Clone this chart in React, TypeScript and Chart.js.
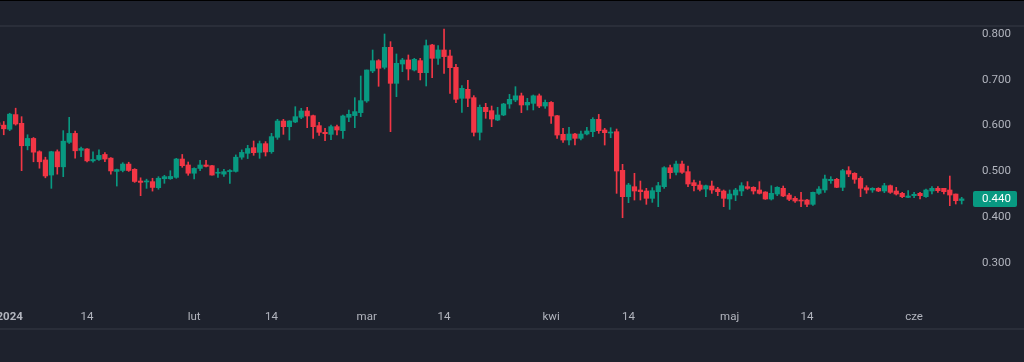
import { useEffect, useRef } from 'react';
import { Chart, registerables } from 'chart.js';

Chart.register(...registerables);

// First candle is 30 Dec 2023 (day -2 relative to 1 Jan 2024), one candle per day up to 9 Jun 2024
const FIRST_DAY = -2;

const open = [
  0.606, 0.601, // Dec
  0.592, 0.624, 0.605, 0.556, 0.572, 0.543, 0.525, 0.492, 0.543, 0.51, 0.5635, 0.583, 0.546, 0.549, 0.523, 0.526, 0.537, 0.529, 0.5, 0.502, 0.516, 0.5045, 0.479, 0.477, 0.4776, 0.4645, 0.484, 0.484, 0.487, 0.527, 0.514, // Jan
  0.496, 0.5065, 0.514, 0.5125, 0.496, 0.494, 0.4995, 0.5, 0.531, 0.5395, 0.5518, 0.5416, 0.5606, 0.5431, 0.5744, 0.61, 0.5977, 0.6079, 0.6181, 0.6319, 0.6217, 0.5999, 0.5853, 0.5809, 0.5977, 0.5889, 0.6182, 0.6218, 0.6283, // Feb
  0.6538, 0.7193, 0.7418, 0.7273, 0.7709, 0.6923, 0.7345, 0.7433, 0.7214, 0.7418, 0.7156, 0.776, 0.7469, 0.7651, 0.752, 0.7273, 0.6596, 0.6792, 0.661, 0.5853, 0.6399, 0.6326, 0.6122, 0.6232, 0.6472, 0.6559, 0.665, 0.645, 0.6486, 0.665, 0.6427, // Mar
  0.6507, 0.6216, 0.5809, 0.5685, 0.5816, 0.5722, 0.5816, 0.5867, 0.6136, 0.5904, 0.5838, 0.5867, 0.5023, 0.4448, 0.4666, 0.4594, 0.4572, 0.4412, 0.4557, 0.4666, 0.5081, 0.498, 0.5161, 0.4994, 0.4754, 0.4703, 0.4615, 0.4681, 0.4615, 0.4572, // Apr
  0.4397, 0.4484, 0.4572, 0.4666, 0.4652, 0.4594, 0.455, 0.4397, 0.4506, 0.463, 0.4484, 0.4412, 0.4375, 0.4375, 0.4281, 0.4521, 0.4594, 0.4797, 0.4827, 0.4652, 0.5016, 0.4958, 0.4848, 0.4644, 0.4594, 0.463, 0.4572, 0.4688, 0.4572, 0.4521, 0.4433, // May
  0.447, 0.4521, 0.4448, 0.4572, 0.463, 0.463, 0.4594, 0.4506, 0.4365, // Jun
];

const high = [
  0.612, 0.609,
  0.627, 0.638, 0.6195, 0.58, 0.574, 0.545, 0.531, 0.544, 0.547, 0.589, 0.618, 0.588, 0.553, 0.55, 0.543, 0.547, 0.541, 0.53, 0.505, 0.519, 0.52, 0.506, 0.486, 0.483, 0.485, 0.4885, 0.4915, 0.5015, 0.5285, 0.537, 0.5205,
  0.508, 0.524, 0.524, 0.513, 0.506, 0.5045, 0.504, 0.536, 0.547, 0.557, 0.5664, 0.5664, 0.565, 0.5831, 0.6137, 0.6137, 0.6108, 0.6413, 0.6377, 0.6399, 0.6231, 0.6071, 0.594, 0.6013, 0.6013, 0.6231, 0.6341, 0.661, 0.7083,
  0.7214, 0.7651, 0.744, 0.8, 0.7833, 0.7564, 0.7469, 0.7542, 0.7469, 0.7469, 0.7869, 0.7775, 0.7746, 0.811, 0.7651, 0.7338, 0.6872, 0.6989, 0.6654, 0.645, 0.6486, 0.6428, 0.6399, 0.6486, 0.6682, 0.685, 0.671, 0.6596, 0.6668, 0.669, 0.6559,
  0.6522, 0.6223, 0.594, 0.5962, 0.5831, 0.5882, 0.5962, 0.6173, 0.6245, 0.594, 0.5954, 0.5925, 0.5154, 0.4739, 0.4958, 0.479, 0.463, 0.4645, 0.4761, 0.5103, 0.514, 0.5227, 0.5227, 0.5117, 0.4812, 0.479, 0.4703, 0.479, 0.4652, 0.4594,
  0.4594, 0.463, 0.4754, 0.4776, 0.4666, 0.4776, 0.4557, 0.4688, 0.4666, 0.4681, 0.4521, 0.4448, 0.4543, 0.439, 0.455, 0.4666, 0.4921, 0.4885, 0.4848, 0.5045, 0.5103, 0.4972, 0.4885, 0.4688, 0.4644, 0.4644, 0.4739, 0.4703, 0.4652, 0.4543, 0.4579,
  0.4543, 0.4543, 0.4615, 0.4666, 0.4666, 0.463, 0.4899, 0.4506, 0.4434,
];

const low = [
  0.598, 0.58,
  0.589, 0.601, 0.5016, 0.547, 0.521, 0.507, 0.486, 0.463, 0.494, 0.4885, 0.561, 0.529, 0.532, 0.5205, 0.52, 0.524, 0.521, 0.494, 0.468, 0.499, 0.5, 0.476, 0.447, 0.463, 0.457, 0.461, 0.474, 0.4825, 0.485, 0.509, 0.4915,
  0.4835, 0.5015, 0.51, 0.4915, 0.487, 0.489, 0.474, 0.4985, 0.5265, 0.528, 0.5351, 0.5286, 0.5336, 0.5395, 0.57, 0.5809, 0.5686, 0.6064, 0.6151, 0.5955, 0.5722, 0.5787, 0.5671, 0.5693, 0.5795, 0.5722, 0.6086, 0.5955, 0.6196,
  0.6508, 0.7156, 0.6858, 0.7236, 0.5868, 0.6632, 0.7178, 0.6996, 0.7193, 0.6996, 0.6865, 0.7047, 0.7338, 0.7142, 0.6705, 0.6501, 0.629, 0.6414, 0.5773, 0.5686, 0.6159, 0.5977, 0.6108, 0.6217, 0.6377, 0.6523, 0.6283, 0.6341, 0.6341, 0.6391, 0.6377,
  0.6049, 0.5722, 0.5634, 0.5576, 0.5576, 0.5685, 0.5794, 0.5758, 0.5831, 0.5576, 0.5736, 0.4521, 0.3989, 0.4317, 0.4375, 0.4375, 0.4281, 0.4324, 0.423, 0.463, 0.4848, 0.4921, 0.4958, 0.4666, 0.4572, 0.4572, 0.4448, 0.4521, 0.447, 0.423,
  0.4171, 0.4361, 0.447, 0.4608, 0.4506, 0.4506, 0.439, 0.4375, 0.447, 0.4448, 0.4361, 0.4324, 0.423, 0.423, 0.4259, 0.4499, 0.4543, 0.4739, 0.4645, 0.4579, 0.4885, 0.4739, 0.4448, 0.4521, 0.4543, 0.4557, 0.4535, 0.4521, 0.4484, 0.4426, 0.4426,
  0.4426, 0.4397, 0.4433, 0.4506, 0.4543, 0.4506, 0.4252, 0.4288, 0.4288,
];

const close = [
  0.6, 0.593,
  0.625, 0.6035, 0.556, 0.572, 0.542, 0.521, 0.49, 0.543, 0.51, 0.566, 0.583, 0.545, 0.55, 0.523, 0.526, 0.535, 0.527, 0.501, 0.504, 0.516, 0.502, 0.478, 0.476, 0.479, 0.465, 0.485, 0.4885, 0.489, 0.527, 0.5125, 0.496,
  0.5065, 0.514, 0.511, 0.492, 0.498, 0.4995, 0.502, 0.531, 0.5415, 0.55, 0.5409, 0.5606, 0.5424, 0.5759, 0.61, 0.5977, 0.61, 0.6195, 0.6319, 0.621, 0.5977, 0.5853, 0.5824, 0.5977, 0.5904, 0.621, 0.6247, 0.6305, 0.6545,
  0.7214, 0.7418, 0.7251, 0.7709, 0.6923, 0.736, 0.7433, 0.7236, 0.7447, 0.7156, 0.7746, 0.7469, 0.7651, 0.7506, 0.7265, 0.6574, 0.6814, 0.6596, 0.5853, 0.6399, 0.6305, 0.6144, 0.6232, 0.6472, 0.6574, 0.665, 0.645, 0.6508, 0.665, 0.6427, 0.6507,
  0.6209, 0.5794, 0.5685, 0.5816, 0.5722, 0.5816, 0.5882, 0.6136, 0.5889, 0.5845, 0.586, 0.5008, 0.4448, 0.4703, 0.4572, 0.4557, 0.4412, 0.4579, 0.4688, 0.5081, 0.4972, 0.5161, 0.498, 0.4725, 0.4688, 0.4608, 0.4688, 0.4594, 0.4557, 0.4412,
  0.4506, 0.4594, 0.4688, 0.463, 0.4572, 0.4521, 0.4397, 0.4521, 0.4652, 0.4463, 0.439, 0.4354, 0.4354, 0.4281, 0.4543, 0.4615, 0.4834, 0.4827, 0.4652, 0.5016, 0.4943, 0.4827, 0.463, 0.4594, 0.463, 0.4572, 0.4688, 0.4543, 0.4506, 0.4448, 0.4463,
  0.4499, 0.447, 0.4594, 0.463, 0.4579, 0.4557, 0.4484, 0.4361, 0.44,
];

// Time-axis ticks: day offset from 1 Jan 2024 and their labels
const tickDays = [0, 13, 31, 44, 60, 73, 91, 104, 121, 134, 152];
const tickLabels = ['2024', '14', 'lut', '14', 'mar', '14', 'kwi', '14', 'maj', '14', 'cze'];
const priceTicks = [0.3, 0.4, 0.5, 0.6, 0.7, 0.8];

const UP = '#089981';
const DOWN = '#f23645';
const BG = '#1e222d';
const TEXT = '#b2b5be';
const FONT = 'Roboto, "Liberation Sans", sans-serif';

// view window
const X_MIN = -1.63;
const X_MAX = 161.395;
const Y_MAX = 0.815284;
const Y_MIN = 0.208297;

export default function App() {
  const ref = useRef<HTMLCanvasElement | null>(null);

  useEffect(() => {
    const canvas = ref.current;
    if (!canvas) return;
    const colors = open.map((o, i) => (close[i] >= o ? UP : DOWN));
    const bodies = open.map((o, i) => ({ x: FIRST_DAY + i, y: [o, close[i]] }));
    const wicks = open.map((_, i) => ({ x: FIRST_DAY + i, y: [low[i], high[i]] }));

    const bgPlugin = {
      id: 'bg',
      beforeDraw(chart: any) {
        const c = chart.ctx;
        c.save();
        c.fillStyle = BG;
        c.fillRect(0, 0, chart.width, chart.height);
        c.fillStyle = '#000000';
        c.fillRect(0, 0, chart.width, 1);
        c.fillStyle = '#2a2e39';
        c.fillRect(0, 25, chart.width, 2);
        c.fillRect(0, 328, chart.width, 2);
        c.restore();
      },
    };

    const lastPlugin = {
      id: 'lastPrice',
      afterDraw(chart: any) {
        const c = chart.ctx;
        const ys = chart.scales.y;
        const last = close[close.length - 1];
        const py = Math.round(ys.getPixelForValue(last));
        c.save();
        c.fillStyle = close[close.length - 1] >= open[open.length - 1] ? UP : DOWN;
        const x0 = 973, w = 44, h = 16;
        c.beginPath();
        if ((c as any).roundRect) (c as any).roundRect(x0, py - h / 2, w, h, 2);
        else c.rect(x0, py - h / 2, w, h);
        c.fill();
        c.fillStyle = '#ffffff';
        c.font = `11.5px ${FONT}`;
        c.textAlign = 'left';
        c.textBaseline = 'middle';
        c.fillText(last.toFixed(3), 982, py + 0.5);
        c.restore();
      },
    };

    const chart = new Chart(canvas, {
      type: 'bar',
      data: {
        datasets: [
          {
            data: bodies as any,
            backgroundColor: colors,
            borderWidth: 0,
            barThickness: 4.6,
            minBarLength: 1,
            grouped: false,
            order: 0,
          },
          {
            data: wicks as any,
            backgroundColor: colors,
            borderWidth: 0,
            barThickness: 1,
            grouped: false,
            order: 1,
          },
        ],
      },
      options: {
        animation: false,
        responsive: false,
        maintainAspectRatio: false,
        layout: { padding: { top: 27, bottom: 33, left: 0, right: 0 } },
        plugins: { legend: { display: false }, tooltip: { enabled: false } },
        scales: {
          x: {
            type: 'linear',
            offset: false,
            min: X_MIN,
            max: X_MAX,
            grid: { display: false, drawTicks: false, offset: false },
            border: { display: false },
            afterBuildTicks: (s: any) => {
              s.ticks = tickDays.map((v) => ({ value: v }));
            },
            afterFit: (s: any) => {
              s.height = 24;
              s.paddingLeft = 0;
              s.paddingRight = 0;
            },
            ticks: {
              autoSkip: false,
              maxRotation: 0,
              padding: 5,
              color: TEXT,
              font: (ctx: any) => ({
                family: FONT,
                size: 11.5,
                weight: ctx.tick && ctx.tick.value === 0 ? 'bold' : 'normal',
              }),
              callback: (v: any) => {
                const k = tickDays.indexOf(Number(v));
                return k >= 0 ? tickLabels[k] : '';
              },
            },
          },
          y: {
            position: 'right',
            min: Y_MIN,
            max: Y_MAX,
            grid: { display: false, drawTicks: false },
            border: { display: false },
            afterBuildTicks: (s: any) => {
              s.ticks = priceTicks.map((v) => ({ value: v }));
            },
            afterFit: (s: any) => {
              s.width = 54;
              s.paddingTop = 0;
              s.paddingBottom = 0;
            },
            ticks: {
              padding: 12,
              color: TEXT,
              font: { family: FONT, size: 11.5 },
              callback: (v: any) => Number(v).toFixed(3),
            },
          },
        },
      } as any,
      plugins: [bgPlugin, lastPlugin],
    });
    return () => chart.destroy();
  }, []);

  return (
    <div style={{ position: 'fixed', left: 0, top: 0, width: 1024, height: 362, background: BG }}>
      <canvas ref={ref} width={1024} height={362} style={{ display: 'block', width: 1024, height: 362 }} />
    </div>
  );
}
